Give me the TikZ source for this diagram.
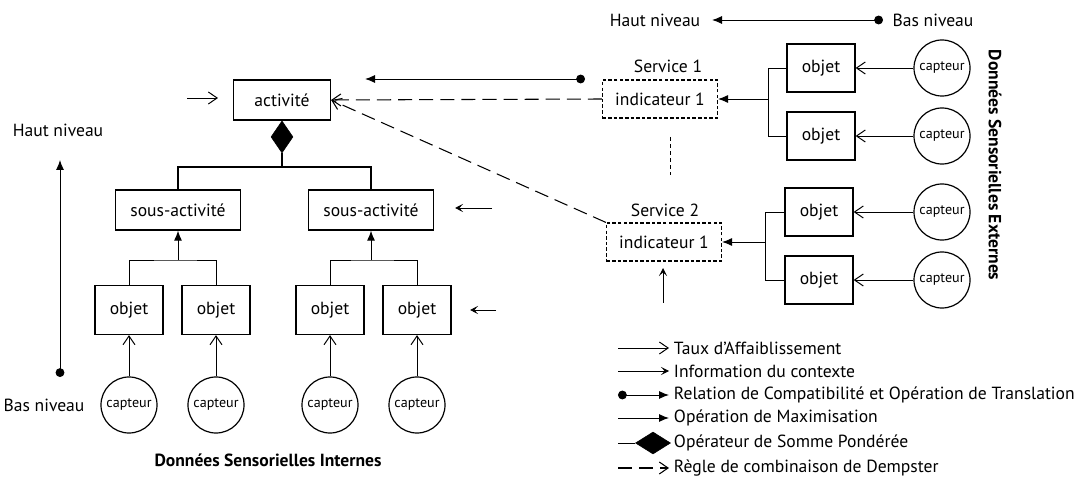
\documentclass[tikz,border=0pt]{standalone}
\usepackage{fontspec}
\setmainfont{PT Sans}
\usetikzlibrary{arrows.meta,shapes.geometric}

\tikzset{
  boite/.style={draw, line width=0.9pt, minimum height=1cm, inner sep=2pt},
  indic/.style={draw, line width=0.75pt, dash pattern=on 2.5pt off 1.5pt, minimum width=2.875cm, minimum height=0.95cm},
  capt/.style={draw, circle, line width=0.85pt, minimum size=1.4cm, inner sep=0pt, font=\fontsize{10}{12}\selectfont},
  taux/.style={-{Straight Barb[length=2.2mm,width=3mm]}, line width=0.7pt},
  contexte/.style={-{Stealth[length=2mm,width=2mm,inset=0.9mm]}, line width=0.7pt},
  maxi/.style={-{Latex[length=2.5mm,width=2mm]}, line width=0.7pt},
  compat/.style={{Circle[length=2.2mm]}-{Latex[length=2.5mm,width=2mm]}, line width=0.7pt},
  dempster/.style={-{Straight Barb[length=2.2mm,width=3mm]}, dash pattern=on 10pt off 5pt, line width=0.75pt},
  titre/.style={font=\fontsize{12.5}{15}\selectfont\bfseries},
}

\begin{document}
\begin{tikzpicture}[x=0.025cm, y=-0.025cm, font=\fontsize{12.5}{15}\selectfont]
  \useasboundingbox (0,0) rectangle (1083,484);

  % donnees internes
  \node[boite, minimum width=2.425cm] (act) at (282,100) {activité};
  \node[diamond, draw, fill, inner sep=0pt, minimum width=0.55cm, minimum height=0.8cm, anchor=north] (somme) at (act.south) {};
  \node[boite, minimum width=3.125cm] (sa1) at (178,210) {sous-activité};
  \node[boite, minimum width=3.125cm] (sa2) at (371,210) {sous-activité};
  \foreach \n/\x in {1/129,2/216,3/330,4/417} {
    \node[boite, minimum width=1.7cm, minimum height=1.225cm] (o\n) at (\x,310) {objet};
    \node[capt] (c\n) at (\x,405) {capteur};
    \draw[taux] (c\n) -- (o\n);
  }
  \coordinate (b0) at (282,167);
  \draw[line width=0.8pt] (somme.south) -- (b0) -| (sa1.north);
  \draw[line width=0.8pt] (b0) -| (sa2.north);
  \coordinate (b1) at (178,260);
  \coordinate (b2) at (371,260);
  \draw[line width=0.7pt] (o1.north) |- (b1) -| (o2.north);
  \draw[line width=0.7pt] (o3.north) |- (b2) -| (o4.north);
  \draw[maxi] (b1) -- (sa1.south);
  \draw[maxi] (b2) -- (sa2.south);
  \node[titre] (int) at (268,460) {Données Sensorielles Internes};

  % niveaux a gauche
  \node (hn) at (58,130) {Haut niveau};
  \node (bn) at (44,405) {Bas niveau};
  \coordinate (bas) at (60,377);
  \coordinate (haut) at (60,160);
  \draw[compat] (bas) -- (haut);

  % fleches de contexte
  \coordinate (e0) at (187,98);
  \coordinate (e1) at (492,208);
  \coordinate (e2) at (496,310);
  \coordinate (e3) at (663,303);
  \draw[taux] (e0) -- (218,98);
  \draw[contexte] (e1) -- (455,208);
  \draw[contexte] (e2) -- (470,310);
  \draw[contexte] (e3) -- (663,268);

  % services
  \node (s1) at (668,66) {Service 1};
  \node[indic] (ind1) at (660,99) {indicateur 1};
  \node (s2) at (665,210) {Service 2};
  \node[indic] (ind2) at (664,242) {indicateur 1};
  \draw[dempster] (ind1.west) -- (act.east);
  \draw[dempster] (ind2.north west) -- (act.east);
  \draw[line width=0.6pt, dash pattern=on 3pt off 2pt] (670,137) -- (670,175);
  \coordinate (p1) at (585,79);
  \coordinate (p2) at (365,79);
  \draw[compat] (p1) -- (p2);

  % niveaux en haut
  \node (hn2) at (655,20) {Haut niveau};
  \node (bn2) at (933,20) {Bas niveau};
  \draw[compat] (883,20) -- (712,20);

  % donnees externes
  \foreach \n/\x/\y in {1/821/68,2/821/136,3/819/212,4/819/280} {
    \node[boite, minimum width=1.7cm, minimum height=1.2cm] (ro\n) at (\x,\y) {objet};
    \node[capt] (rc\n) at (942,\y) {capteur};
    \draw[taux] (rc\n) -- (ro\n);
  }
  \coordinate (r1) at (768,99);
  \coordinate (r2) at (765,242);
  \draw[line width=0.7pt] (ro1.west) -| (r1) |- (ro2.west);
  \draw[line width=0.7pt] (ro3.west) -| (r2) |- (ro4.west);
  \draw[maxi] (r1) -- (ind1.east);
  \draw[maxi] (r2) -- (ind2.east);
  \node[titre, rotate=-90] (ext) at (995,165) {Données Sensorielles Externes};

  % legende
  \foreach \y/\sty/\txt in {348/taux/{Taux d'Affaiblissement}, 371/contexte/{Information du contexte}, 395/compat/{Relation de Compatibilité et Opération de Translation}, 418/maxi/{Opération de Maximisation}, 468/dempster/{Règle de combinaison de Dempster}} {
    \coordinate (l\y) at (618,\y);
    \node[anchor=west] (t\y) at (669,\y) {\txt};
    \draw[\sty] (l\y) -- (t\y.west);
  }
  \coordinate (l443) at (618,443);
  \node[diamond, draw, fill, inner sep=0pt, minimum width=0.875cm, minimum height=0.55cm] (dleg) at (653,443) {};
  \node[anchor=west] (t443) at (669,443) {Opérateur de Somme Pondérée};
  \draw[line width=0.7pt] (l443) -- (dleg.west);
\end{tikzpicture}
\end{document}
